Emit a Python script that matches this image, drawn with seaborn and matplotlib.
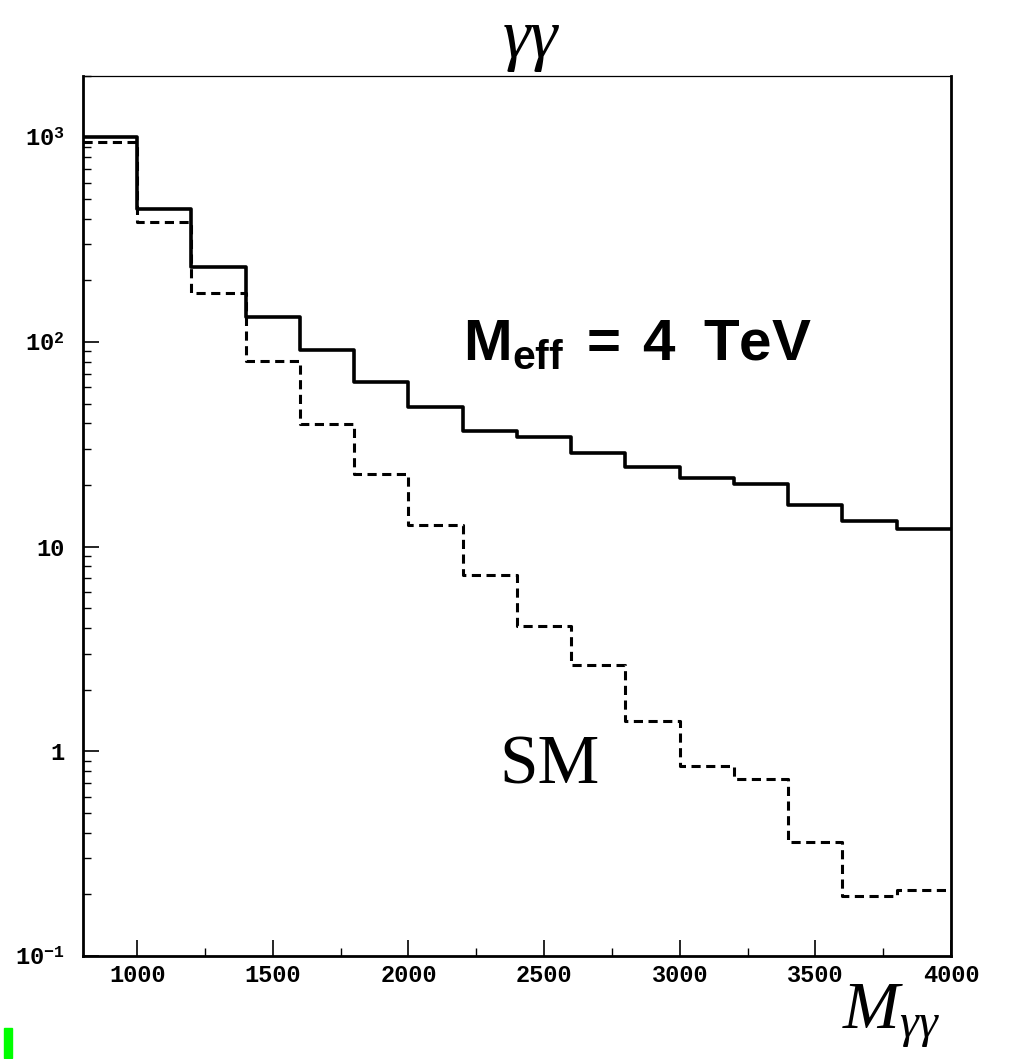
import matplotlib
matplotlib.use("Agg")
import matplotlib.pyplot as plt
import matplotlib.ticker as mticker
from matplotlib.patches import Rectangle
import numpy as np
import seaborn as sns

# diphoton invariant mass bins (GeV)
bin_edges = [800, 1000, 1200, 1400, 1600, 1800, 2000, 2200, 2400,
             2600, 2800, 3000, 3200, 3400, 3600, 3800, 4000]
# events per bin, M_eff = 4 TeV (solid)
meff_4tev = [1000, 448, 231, 133, 91, 63.6, 48, 36.9,
             34.4, 28.7, 24.5, 21.7, 20.3, 15.9, 13.4, 12.2]
# events per bin, Standard Model (dashed)
sm_only = [950, 387, 174, 80.5, 39.5, 22.6, 12.7, 7.3,
           4.08, 2.65, 1.40, 0.843, 0.734, 0.362, 0.196, 0.209]

x_ticks = [1000, 1500, 2000, 2500, 3000, 3500, 4000]
y_ticks = [0.1, 1, 10, 100, 1000]
y_tick_labels = [r"$10^{-1}$", "1", "10", r"$10^{2}$", r"$10^{3}$"]

sns.set_theme(style="ticks")
plt.rcParams["font.family"] = ["Liberation Mono", "DejaVu Sans"]
plt.rcParams["mathtext.fontset"] = "custom"
plt.rcParams["mathtext.rm"] = "Liberation Mono:bold"
plt.rcParams["mathtext.bf"] = "Liberation Mono:bold"
plt.rcParams["mathtext.it"] = "Liberation Serif:italic"
plt.rcParams["mathtext.sf"] = "Liberation Sans:bold"

fig = plt.figure(figsize=(10.17, 10.59), dpi=100)
ax = fig.add_axes([0.0816, 0.0973, 0.8535, 0.8313])

centres = (np.array(bin_edges[:-1]) + np.array(bin_edges[1:])) / 2

sns.histplot(x=centres, weights=sm_only, bins=bin_edges, element="step",
             fill=False, color="black", linewidth=2.2,
             linestyle=(0, (3, 1.8)), ax=ax)
sns.histplot(x=centres, weights=meff_4tev, bins=bin_edges, element="step",
             fill=False, color="black", linewidth=2.6, ax=ax)

ax.set_yscale("log")
ax.set_xlim(800, 4000)
ax.set_ylim(0.1, 2000)
ax.set_xlabel("")
ax.set_ylabel("")

ax.set_xticks(x_ticks, labels=[str(t) for t in x_ticks],
              fontsize=17, fontweight="bold")
ax.set_yticks(y_ticks, labels=y_tick_labels, fontsize=17, fontweight="bold")
ax.xaxis.set_minor_locator(mticker.MultipleLocator(250))
ax.yaxis.set_minor_locator(mticker.LogLocator(base=10, subs=range(2, 10)))
ax.yaxis.set_minor_formatter(mticker.NullFormatter())

ax.tick_params(which="both", direction="in", colors="black",
               top=False, right=False)
ax.tick_params(which="major", length=11.5, width=1.2)
ax.tick_params(which="minor", length=5.5, width=1.0)
ax.tick_params(axis="y", pad=13)
ax.tick_params(axis="x", pad=6)

for side in ["left", "bottom", "right"]:
    ax.spines[side].set_visible(True)
    ax.spines[side].set_linewidth(2.0)
    ax.spines[side].set_color("black")
ax.spines["top"].set_visible(True)
ax.spines["top"].set_linewidth(0.9)
ax.spines["top"].set_color("black")
ax.set_facecolor("white")

# labels drawn in the style of the original figure
fig.text(0.522, 0.946, r"$\gamma\gamma$", fontsize=50, ha="center",
         va="baseline", color="black")
fig.text(0.4553, 0.6601, r"$\mathsf{M_{eff}\ =\ 4\ \ TeV}$", fontsize=42,
         ha="left", va="baseline", color="black")
fig.text(0.4907, 0.2606, "SM", fontsize=50, family="Liberation Serif",
         ha="left", va="baseline", color="black")
fig.text(0.828, 0.029, r"$M_{\gamma\gamma}$", fontsize=49, ha="left",
         va="baseline", color="black")

fig.patches.append(Rectangle((4 / 1017, 1 / 1059), 8 / 1017, 30 / 1059,
                             transform=fig.transFigure, color="#00ff00"))

fig.savefig("out.png", dpi=100, facecolor="white")
